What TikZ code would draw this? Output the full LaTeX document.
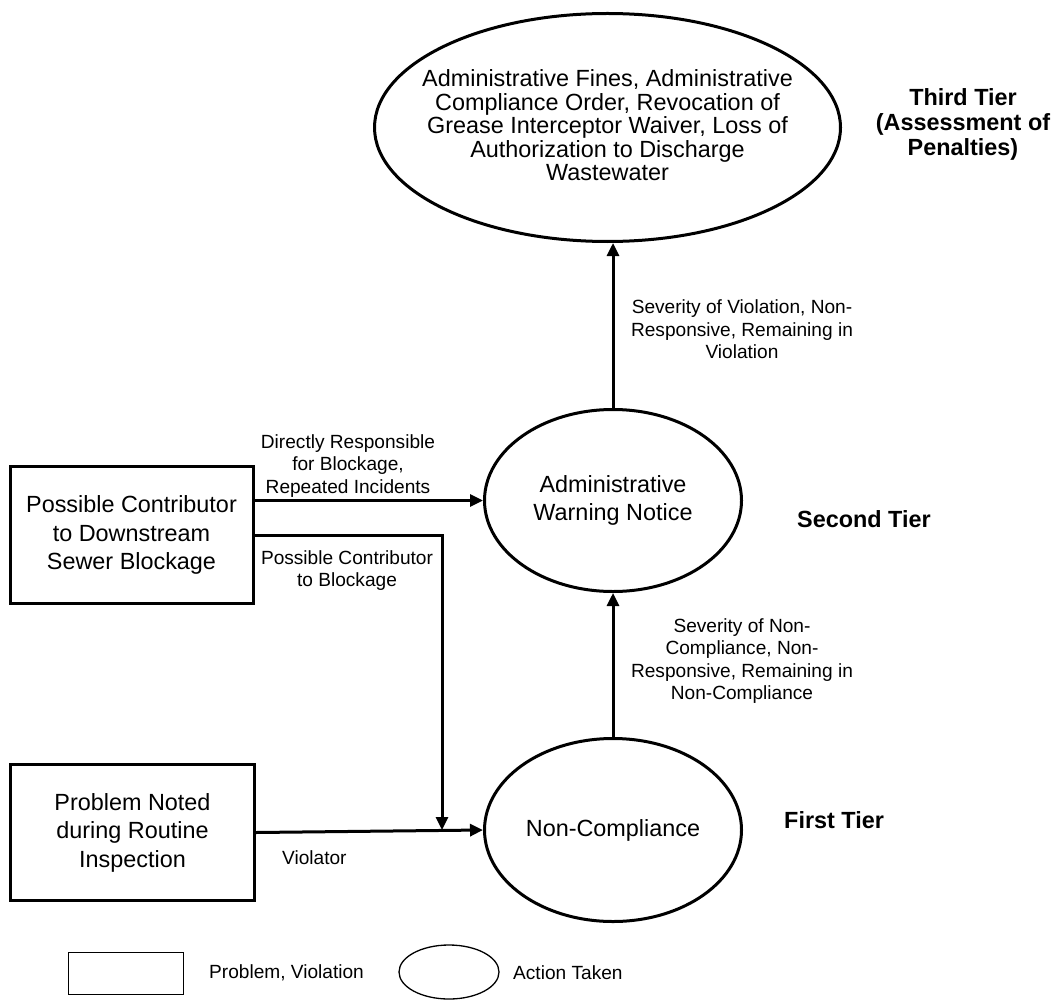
\documentclass[tikz,border=0pt]{standalone}
\usepackage{fontspec}
\setmainfont{Liberation Sans}
\usetikzlibrary{shapes.geometric,arrows.meta}
\begin{document}
\begin{tikzpicture}[x=1pt,y=-1pt,
  probbox/.style={draw, line width=3pt, inner sep=0pt,
    font=\fontsize{23.4}{28.5}\selectfont, align=center},
  action/.style={draw, ellipse, line width=3pt, inner sep=0pt},
  bigtext/.style={font=\fontsize{23.4}{28.5}\selectfont, align=center, inner sep=0pt},
  tighttext/.style={font=\fontsize{23.4}{23.5}\selectfont, align=center, inner sep=0pt},
  smalltext/.style={font=\fontsize{19.1}{22.4}\selectfont, align=center, inner sep=0pt},
  tiertext/.style={font=\fontsize{23.4}{25}\selectfont\bfseries, align=center, inner sep=0pt},
  flow/.style={line width=3pt, -{Triangle[length=13pt,width=12pt]}},
  legendline/.style={draw, line width=1.3pt, inner sep=0pt},
]
\useasboundingbox (0,0) rectangle (1056,1000);

% problems (boxes)
\node[probbox, minimum width=243pt, minimum height=137pt] (contrib) at (131.5,535)
  {Possible Contributor\\to Downstream\\Sewer Blockage};
\node[probbox, minimum width=244pt, minimum height=136pt] (routine) at (132.5,832.5)
  {Problem Noted\\during Routine\\Inspection};

% actions (ellipses)
\node[action, minimum width=466pt, minimum height=228pt] (penalty) at (607.5,127.5) {};
\node[tighttext] (penaltytxt) at (607.5,125.5)
  {Administrative Fines, Administrative\\Compliance Order, Revocation of\\Grease Interceptor Waiver, Loss of\\Authorization to Discharge\\Wastewater};
\node[action, minimum width=257pt, minimum height=182pt] (warning) at (613,500.5) {};
\node[bigtext] (warningtxt) at (warning.center) {Administrative\\Warning Notice};
\node[action, minimum width=257pt, minimum height=183pt] (noncomp) at (613,830) {};
\node[bigtext] (noncomptxt) at (noncomp.center) {Non-Compliance};

% tiers
\node[tiertext] (tier3) at (963,124) {Third Tier\\(Assessment of\\Penalties)};
\node[tiertext, anchor=west] (tier2) at (797,519) {Second Tier};
\node[tiertext, anchor=west] (tier1) at (784,820) {First Tier};

% connectors
\coordinate (join) at (442,830);
\draw[flow] (contrib.east |- warning.west) -- (warning.west);
\draw[flow] (contrib.east) -| (join);
\draw[flow] (routine.east) -- (noncomp.west);
\draw[flow] (noncomp.north) -- (warning.south);
\draw[flow] (warning.north) -- (warning.north |- penalty.south);

% connector labels
\node[smalltext] (lblup2) at (742,329.5)
  {Severity of Violation, Non-\\Responsive, Remaining in\\Violation};
\node[smalltext] (lblup1) at (742,661)
  {Severity of Non-\\Compliance, Non-\\Responsive, Remaining in\\Non-Compliance};
\node[smalltext] (lbldirect) at (348,466)
  {Directly Responsible\\for Blockage,\\Repeated Incidents};
\node[smalltext] (lblpossible) at (347,570.5)
  {Possible Contributor\\to Blockage};
\node[smalltext, anchor=west] (lblviolator) at (282,858) {Violator};

% legend
\node[legendline, minimum width=115pt, minimum height=42pt] (legbox) at (126,973.5) {};
\node[smalltext, anchor=west] (legboxtxt) at (209,973) {Problem, Violation};
\node[legendline, ellipse, minimum width=100pt, minimum height=54pt] (legell) at (449,972) {};
\node[smalltext, anchor=west] (legelltxt) at (513,973) {Action Taken};
\end{tikzpicture}
\end{document}
